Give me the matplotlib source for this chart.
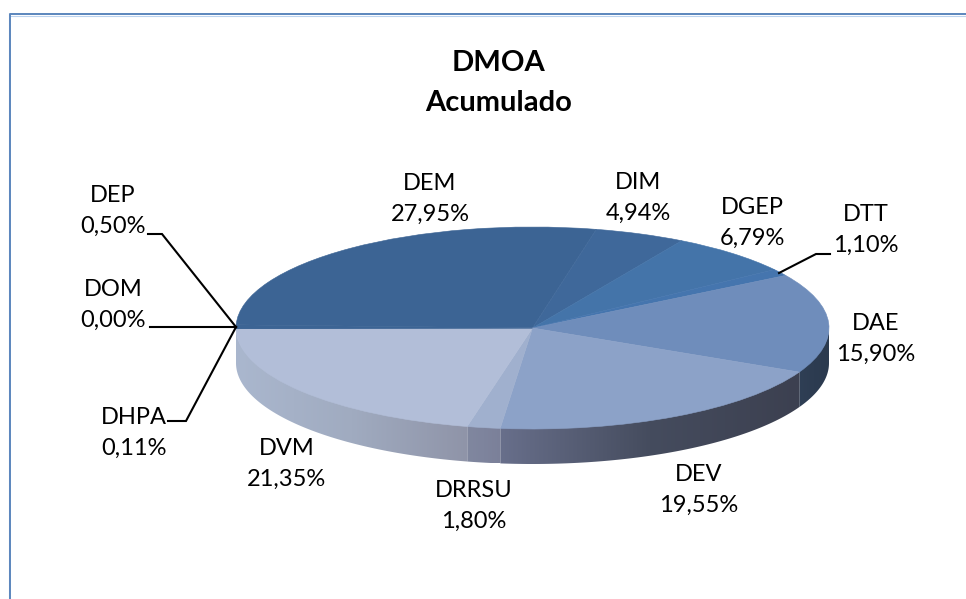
import numpy as np
import matplotlib
matplotlib.use('Agg')
import matplotlib.pyplot as plt
from matplotlib.colors import to_rgb
from matplotlib.patches import Polygon

plt.rcParams['font.family'] = ['Lato', 'DejaVu Sans']

categories = ['DEM', 'DIM', 'DGEP', 'DTT', 'DAE', 'DEV', 'DRRSU', 'DVM', 'DHPA', 'DOM', 'DEP']
values = [27.95, 4.94, 6.79, 1.10, 15.90, 19.55, 1.80, 21.35, 0.11, 0.00, 0.50]
value_labels = ['27,95%', '4,94%', '6,79%', '1,10%', '15,90%', '19,55%', '1,80%', '21,35%', '0,11%', '0,00%', '0,50%']
top_colors = ['#3c6494', '#3f689a', '#4474a9', '#4575ae', '#6f8dbb', '#8ca2c8',
              '#a0b0ce', '#b2bed8', '#3c6494', '#3c6494', '#3c6494']
# side colours, left / middle / right of each slice
side_colors = {'DVM': ['#aab7ce', '#a0abc0', '#8f94a8'],
               'DRRSU': ['#80879f', '#7e849d', '#7b8099'],
               'DEV': ['#686f8b', '#454c5e', '#3c4050'],
               'DAE': ['#2f3f55', '#2d3c51', '#2b3a4e']}

W, H = 966, 599
cx, cy, rx, ry, depth = 532.5, 328, 296.5, 101, 35
start_angle = 178.2

fig = plt.figure(figsize=(W / 100, H / 100), dpi=100)

# background axes in pixel coordinates, for text and leader lines
bg = fig.add_axes([0, 0, 1, 1])
bg.set_xlim(0, W)
bg.set_ylim(H, 0)
bg.axis('off')
bg.plot([8.5, 8.5], [H, 13], color='#c5cfe3', lw=0.8, solid_capstyle='butt')
bg.plot([10, W], [15.5, 15.5], color='#bcd3ee', lw=0.8, solid_capstyle='butt')
bg.plot([10, 10, W], [H, 14, 14], color='#5b86bd', lw=1.4, solid_capstyle='butt')

ax = fig.add_axes([0, 0, 1, 1])
ax.patch.set_alpha(0)
wedges, _ = ax.pie(values, colors=top_colors, startangle=start_angle, counterclock=False, radius=1,
                   normalize=True)
# edge in the same colour, so no white seams between the slices
for w, c in zip(wedges, top_colors):
    w.set_edgecolor(c)
    w.set_linewidth(0.4)

# side wall, a horizontal gradient clipped to the front of each slice
d = depth / ry
edges = start_angle - np.cumsum([0] + values) * 3.6
for name, a0, a1 in zip(categories, edges[:-1], edges[1:]):
    if name not in side_colors:
        continue
    a0 = min(a0, 0)
    if name == 'DVM':
        a1 = -180
    th = np.radians(np.linspace(a0, a1, 200))
    xs, ys = np.cos(th), np.sin(th)
    outline = np.vstack([np.column_stack([xs, ys + 0.01]), np.column_stack([xs[::-1], ys[::-1] - d])])
    clip = Polygon(outline, closed=True, transform=ax.transData, fc='none', ec='none')
    ax.add_patch(clip)
    stops = np.array([to_rgb(c) for c in side_colors[name]])
    t = np.linspace(0, 1, 256)
    grad = np.stack([np.interp(t, [0, 0.5, 1], stops[:, i]) for i in range(3)], axis=-1)[None, :, :]
    x0, x1 = xs.min(), xs.max()
    im = ax.imshow(grad, extent=[x0, x1, ys.min() - d, ys.max() + 0.02], aspect='auto', zorder=0)
    im.set_clip_path(clip)

ax.set_aspect('auto')
ax.set_xlim((0 - cx) / rx, (W - cx) / rx)
ax.set_ylim((cy - H) / ry, cy / ry)
ax.axis('off')

# leader lines
line_kw = {'color': 'black', 'lw': 1.5, 'solid_joinstyle': 'miter'}
bg.plot([148, 162, 236], [234, 234, 327], **line_kw)
bg.plot([150, 236], [327, 327], **line_kw)
bg.plot([168, 186, 236], [421, 421, 327], **line_kw)
bg.plot([830, 816, 779], [254, 254, 273], **line_kw)
bg.set_zorder(2)
ax.set_zorder(1)

# label centres in pixels
label_pos = {'DEM': (430, 199), 'DIM': (638, 198), 'DGEP': (752, 223), 'DTT': (866, 230),
             'DAE': (876, 339), 'DEV': (699, 490), 'DRRSU': (474, 506), 'DVM': (287, 464),
             'DHPA': (134, 433), 'DOM': (113, 305), 'DEP': (113, 211)}
for name, txt in zip(categories, value_labels):
    x, y = label_pos[name]
    bg.text(x, y, name + '\n' + txt, ha='center', va='center', fontsize=17, linespacing=1.62, color='black')

bg.text(499, 83, 'DMOA\nAcumulado', ha='center', va='center', fontsize=21, fontweight='bold',
        linespacing=1.65, color='black')

fig.savefig('out.png', dpi=100)
